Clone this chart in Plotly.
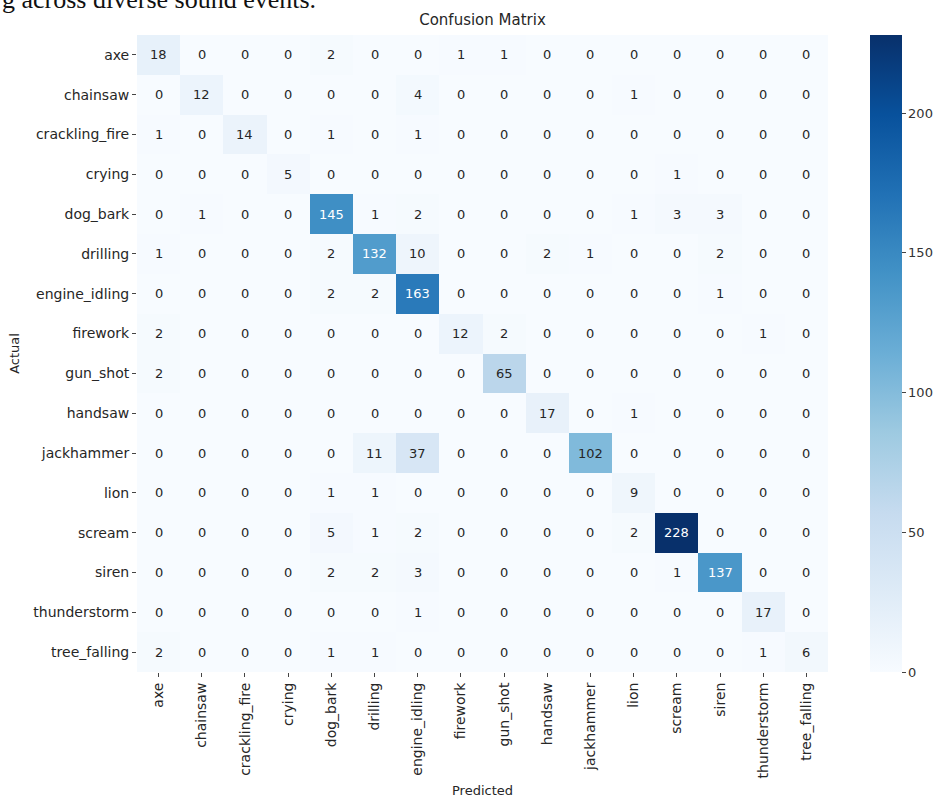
import plotly.graph_objects as go

labels = ["axe", "chainsaw", "crackling_fire", "crying", "dog_bark", "drilling",
          "engine_idling", "firework", "gun_shot", "handsaw", "jackhammer", "lion",
          "scream", "siren", "thunderstorm", "tree_falling"]

row_axe            = [18, 0, 0, 0, 2, 0, 0, 1, 1, 0, 0, 0, 0, 0, 0, 0]
row_chainsaw       = [0, 12, 0, 0, 0, 0, 4, 0, 0, 0, 0, 1, 0, 0, 0, 0]
row_crackling_fire = [1, 0, 14, 0, 1, 0, 1, 0, 0, 0, 0, 0, 0, 0, 0, 0]
row_crying         = [0, 0, 0, 5, 0, 0, 0, 0, 0, 0, 0, 0, 1, 0, 0, 0]
row_dog_bark       = [0, 1, 0, 0, 145, 1, 2, 0, 0, 0, 0, 1, 3, 3, 0, 0]
row_drilling       = [1, 0, 0, 0, 2, 132, 10, 0, 0, 2, 1, 0, 0, 2, 0, 0]
row_engine_idling  = [0, 0, 0, 0, 2, 2, 163, 0, 0, 0, 0, 0, 0, 1, 0, 0]
row_firework       = [2, 0, 0, 0, 0, 0, 0, 12, 2, 0, 0, 0, 0, 0, 1, 0]
row_gun_shot       = [2, 0, 0, 0, 0, 0, 0, 0, 65, 0, 0, 0, 0, 0, 0, 0]
row_handsaw        = [0, 0, 0, 0, 0, 0, 0, 0, 0, 17, 0, 1, 0, 0, 0, 0]
row_jackhammer     = [0, 0, 0, 0, 0, 11, 37, 0, 0, 0, 102, 0, 0, 0, 0, 0]
row_lion           = [0, 0, 0, 0, 1, 1, 0, 0, 0, 0, 0, 9, 0, 0, 0, 0]
row_scream         = [0, 0, 0, 0, 5, 1, 2, 0, 0, 0, 0, 2, 228, 0, 0, 0]
row_siren          = [0, 0, 0, 0, 2, 2, 3, 0, 0, 0, 0, 0, 1, 137, 0, 0]
row_thunderstorm   = [0, 0, 0, 0, 0, 0, 1, 0, 0, 0, 0, 0, 0, 0, 17, 0]
row_tree_falling   = [2, 0, 0, 0, 1, 1, 0, 0, 0, 0, 0, 0, 0, 0, 1, 6]

matrix = [row_axe, row_chainsaw, row_crackling_fire, row_crying, row_dog_bark,
          row_drilling, row_engine_idling, row_firework, row_gun_shot, row_handsaw,
          row_jackhammer, row_lion, row_scream, row_siren, row_thunderstorm,
          row_tree_falling]

cbar_ticks = [0, 50, 100, 150, 200]

blues = [[0.0, "#f7fbff"], [0.125, "#deebf7"], [0.25, "#c6dbef"], [0.375, "#9ecae1"],
         [0.5, "#6baed6"], [0.625, "#4292c6"], [0.75, "#2171b5"], [0.875, "#08519c"],
         [1.0, "#08306b"]]

W, H = 942, 798
L, R, T, B = 137, 114, 35, 126
pw, ph = W - L - R, H - T - B

zmax = max(max(r) for r in matrix)

fig = go.Figure(go.Heatmap(
    z=matrix, x=labels, y=labels, colorscale=blues, zmin=0, zmax=zmax,
    xgap=0, ygap=0, hoverinfo="skip",
    colorbar=dict(
        x=(870 - L) / pw, xanchor="left", xref="paper",
        y=0, yanchor="bottom", len=1, lenmode="fraction", ypad=0, xpad=0,
        thickness=32, thicknessmode="pixels", outlinewidth=0,
        tickvals=cbar_ticks, ticks="outside", ticklen=4, tickcolor="#444",
        tickfont=dict(family="DejaVu Sans", size=13, color="#333"),
    ),
))

annotations = []
thresh = zmax * 0.5
for i, rlab in enumerate(labels):
    for j, clab in enumerate(labels):
        v = matrix[i][j]
        annotations.append(dict(
            x=clab, y=rlab, xref="x", yref="y", text=str(v), showarrow=False,
            font=dict(family="DejaVu Sans", size=13,
                      color="#ffffff" if v > thresh else "#262626"),
        ))

annotations.append(dict(
    text="g across diverse sound events.", xref="paper", yref="paper",
    x=-L / pw, xanchor="left", y=1 + (T - 16) / ph, yanchor="bottom",
    showarrow=False, font=dict(family="Liberation Serif", size=26, color="#111"),
))

fig.update_layout(
    width=W, height=H, margin=dict(l=L, r=R, t=T, b=B, autoexpand=False),
    paper_bgcolor="white", plot_bgcolor="white",
    font=dict(family="DejaVu Sans", color="#262626"),
    title=dict(text="Confusion Matrix", x=0.5, xref="paper", xanchor="center",
               y=1 - 20 / H, yref="container", yanchor="middle",
               font=dict(family="DejaVu Sans", size=15, color="#262626")),
    xaxis=dict(title=dict(text="Predicted", font=dict(size=13), standoff=14),
               tickangle=-90, ticks="outside", ticklen=4, tickcolor="#444",
               tickfont=dict(size=14, color="#262626"), showgrid=False,
               zeroline=False, showline=False, constrain="domain"),
    yaxis=dict(title=dict(text="Actual", font=dict(size=13), standoff=10),
               autorange="reversed", ticks="outside", ticklen=4, tickcolor="#444",
               tickfont=dict(size=14, color="#262626"), showgrid=False,
               zeroline=False, showline=False),
    annotations=annotations,
)

fig.write_html("out.html")
